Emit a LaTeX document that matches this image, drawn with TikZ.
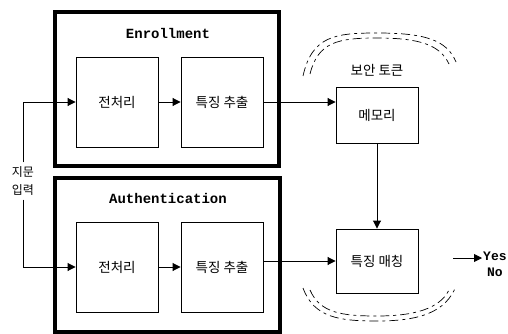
\documentclass[tikz,border=0pt]{standalone}
\usepackage{fontspec}
\setmonofont{Liberation Mono}
\newfontfamily\kofont{Noto Sans CJK KR}
\usetikzlibrary{arrows.meta}
\tikzset{
  x=1pt, y=-1pt,
  stage/.style={draw=black, line width=3.5pt, minimum width=224pt, minimum height=154pt},
  blk/.style={draw=black, line width=0.9pt, minimum width=82pt, minimum height=90pt, font=\kofont\fontsize{13.5}{16}\selectfont},
  hdr/.style={font=\ttfamily\bfseries\fontsize{14}{16}\selectfont},
  kor/.style={font=\kofont\fontsize{13.5}{16}\selectfont, align=center},
  arr/.style={line width=0.9pt, -{Triangle[length=8pt,width=8pt]}},
  tok/.style={line width=0.7pt, dash pattern=on 9pt off 4pt on 3pt off 4pt}
}
\begin{document}
\begin{tikzpicture}
\useasboundingbox (0,0) rectangle (508,334);

% two processing stages
\node[stage] (enr) at (167,89) {};
\node[stage, minimum width=225pt] (aut) at (167.5,255) {};
\node[hdr] (enrt) at (168,33) {Enrollment};
\node[hdr] (autt) at (168,198) {Authentication};

% inner blocks
\node[blk] (pre1) at (117,102) {전처리};
\node[blk] (feat1) at (222,102) {특징 추출};
\node[blk] (pre2) at (117,267) {전처리};
\node[blk] (feat2) at (222,267) {특징 추출};

% security token blocks
\node[blk, minimum height=56pt] (mem) at (377,115) {메모리};
\node[blk, minimum height=64pt] (match) at (377,261) {특징 매칭};
\node[kor] (tokt) at (377,70) {보안 토큰};

% fingerprint input
\node[align=center, inner sep=4pt, font=\kofont\fontsize{12}{18}\selectfont] (inp) at (23,181) {지문\\입력};

% result
\node[font=\ttfamily\bfseries\fontsize{13}{16}\selectfont, align=center, anchor=west, inner sep=1pt] (yn) at (482,264) {Yes\\No};
\coordinate (out) at (453,258);

% connectors
\draw[arr] (inp.north) |- (pre1.west);
\draw[arr] (inp.south) |- (pre2.west);
\draw[arr] (pre1) -- (feat1);
\draw[arr] (pre2) -- (feat2);
\draw[arr] (feat1.east) -- (feat1.east -| mem.west);
\draw[arr] (match.west -| feat2.east) -- (match.west);
\draw[arr] (mem) -- (match);
\draw[arr] (out) -- (out -| yn.west);

% token outline (double dashed arcs)
\draw[tok] (303,76) .. controls (312,36) and (335,33) .. (377,33) .. controls (425,33) and (447,40) .. (456,62);
\draw[tok] (310,74) .. controls (318,42) and (338,38) .. (377,38) .. controls (420,38) and (440,45) .. (449,64);
\draw[tok] (303,288) .. controls (314,318) and (340,321) .. (377,321) .. controls (420,321) and (446,312) .. (456,286);
\draw[tok] (310,290) .. controls (320,313) and (342,316) .. (377,316) .. controls (416,316) and (440,308) .. (449,290);
\end{tikzpicture}
\end{document}
